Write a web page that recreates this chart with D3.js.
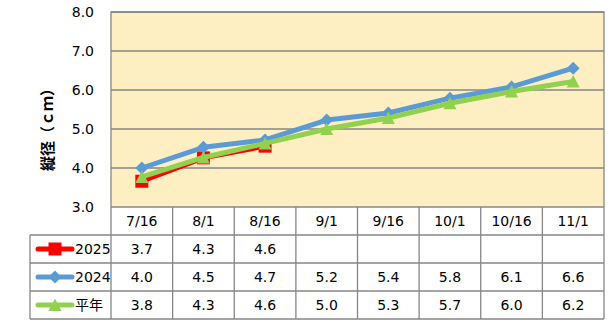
<!DOCTYPE html>
<html><head><meta charset="utf-8">
<script src="https://cdn.jsdelivr.net/npm/d3@7"></script>
<style>body{margin:0;background:#fff}svg{display:block}</style>
</head><body>
<svg id="c" width="615" height="326"></svg>
<script>
const categories = ["7/16","8/1","8/16","9/1","9/16","10/1","10/16","11/1"];
const yTicks = [3,4,5,6,7,8];
const seriesNames = ["2025","2024","平年"];
const values2025 = [3.66,4.26,4.56,null,null,null,null,null];
const values2024 = [4.0,4.53,4.72,5.23,5.41,5.79,6.08,6.56];
const valuesAvg = [3.77,4.27,4.63,5.0,5.28,5.66,5.96,6.22];
const yTitle = "縦径（ｃｍ）";

const series = [
  {name: seriesNames[0], values: values2025, color: "#FF0000", marker: "square"},
  {name: seriesNames[1], values: values2024, color: "#5B9BD5", marker: "diamond"},
  {name: seriesNames[2], values: valuesAvg, color: "#92D050", marker: "triangle"}
];

const svg = d3.select("#c");
const L = 111, R = 604, T = 12, B = 207;
const rowH = 28;
const gray = "#868686";
const font = "'DejaVu Sans','Noto Sans CJK JP',sans-serif";
const fmt = d3.format(".1f");

const x = d3.scaleBand().domain(categories).range([L, R]);
const y = d3.scaleLinear().domain([3, 8]).range([B, T]);

svg.append("rect").attr("x", L).attr("y", T).attr("width", R - L).attr("height", B - T).attr("fill", "#FEEFC3");

svg.append("g").selectAll("line").data(yTicks.filter(d => d > 3)).join("line")
  .attr("x1", L).attr("x2", R).attr("y1", d => y(d)).attr("y2", d => y(d))
  .attr("stroke", gray).attr("stroke-width", 1.3);
svg.append("path").attr("d", `M${L},${B}V${T}H${R}V${B}`).attr("fill", "none").attr("stroke", gray).attr("stroke-width", 1.3);

svg.append("g").selectAll("text").data(yTicks).join("text")
  .attr("x", 94).attr("y", d => y(d)).attr("dy", "0.36em").attr("text-anchor", "end")
  .attr("font-family", font).attr("font-size", 14).attr("fill", "#000")
  .text(d => fmt(d));

svg.append("text").attr("transform", "translate(53,126) rotate(-90)")
  .attr("text-anchor", "middle").attr("font-family", "'Noto Sans CJK JP',sans-serif")
  .attr("font-size", 15).attr("font-weight", "bold").attr("fill", "#000").text(yTitle);

function markerPath(type) {
  if (type === "square") return "M-6.5,-6.5H6.5V6.5H-6.5Z";
  if (type === "diamond") return "M0,-6.5L6.5,0L0,6.5L-6.5,0Z";
  return "M0,-6.5L6.5,6H-6.5Z";
}

const line = d3.line().defined(d => d.v != null).x(d => d.x).y(d => y(d.v));
series.forEach(s => {
  const pts = s.values.map((v, i) => ({v, x: x(categories[i]) + x.bandwidth() / 2}));
  svg.append("path").datum(pts).attr("d", line).attr("fill", "none")
    .attr("stroke", s.color).attr("stroke-width", 5).attr("stroke-linejoin", "round");
  svg.append("g").selectAll("path").data(pts.filter(d => d.v != null)).join("path")
    .attr("transform", d => `translate(${d.x},${y(d.v)})`)
    .attr("d", markerPath(s.marker)).attr("fill", s.color);
});

const tbl = svg.append("g");
const tableBottom = B + rowH * 4;
const legendL = 30;
[B + rowH, B + rowH * 2, B + rowH * 3, tableBottom].forEach(yy => {
  tbl.append("line").attr("x1", legendL).attr("x2", R).attr("y1", yy).attr("y2", yy)
    .attr("stroke", gray).attr("stroke-width", 1.3);
});
tbl.append("line").attr("x1", L).attr("x2", R).attr("y1", B).attr("y2", B).attr("stroke", gray).attr("stroke-width", 1.3);
const vx = categories.map(c => x(c)).concat([R]);
vx.forEach(xx => {
  tbl.append("line").attr("x1", xx).attr("x2", xx).attr("y1", B).attr("y2", tableBottom)
    .attr("stroke", gray).attr("stroke-width", 1.3);
});
tbl.append("line").attr("x1", legendL).attr("x2", legendL).attr("y1", B + rowH).attr("y2", tableBottom)
  .attr("stroke", gray).attr("stroke-width", 1.3);

tbl.selectAll("text.h").data(categories).join("text").attr("class", "h")
  .attr("x", d => x(d) + x.bandwidth() / 2).attr("y", B + rowH / 2).attr("dy", "0.36em")
  .attr("text-anchor", "middle").attr("font-family", font).attr("font-size", 14).text(d => d);

series.forEach((s, r) => {
  const cy = B + rowH * (r + 1) + rowH / 2;
  tbl.append("line").attr("x1", 38).attr("x2", 72).attr("y1", cy).attr("y2", cy)
    .attr("stroke", s.color).attr("stroke-width", 5).attr("stroke-linecap", "round");
  tbl.append("path").attr("transform", `translate(55,${cy})`).attr("d", markerPath(s.marker)).attr("fill", s.color);
  tbl.append("text").attr("x", 75).attr("y", cy).attr("dy", "0.36em")
    .attr("font-family", font).attr("font-size", 14).text(s.name);
  tbl.selectAll(null).data(s.values.map((v, i) => ({v, c: categories[i]})).filter(d => d.v != null)).join("text")
    .attr("x", d => x(d.c) + x.bandwidth() / 2).attr("y", cy).attr("dy", "0.36em")
    .attr("text-anchor", "middle").attr("font-family", font).attr("font-size", 14)
    .text(d => fmt(d.v));
});
</script>
</body></html>
